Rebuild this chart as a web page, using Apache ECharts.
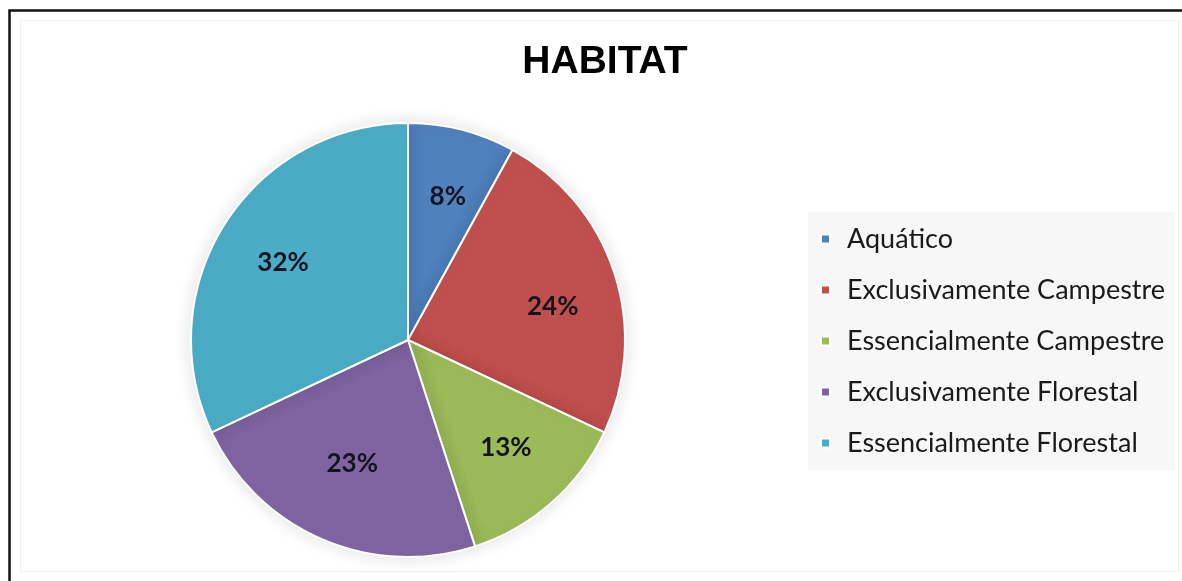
<!DOCTYPE html>
<html>
<head>
<meta charset="utf-8">
<script src="https://cdn.jsdelivr.net/npm/echarts@6/dist/echarts.min.js"></script>
<style>
  html, body { margin: 0; padding: 0; background: #ffffff; }
  #chart { width: 1182px; height: 581px; }
</style>
</head>
<body>
<div id="chart"></div>
<script>
// Habitat categories and their share of species (%)
const categories = [
  'Aquático',
  'Exclusivamente Campestre',
  'Essencialmente Campestre',
  'Exclusivamente Florestal',
  'Essencialmente Florestal'
];
const shares = [8, 24, 13, 23, 32];
const colors = ['#4f81bd', '#c0504d', '#9bbb59', '#8064a2', '#4bacc6'];
// small nudges for the percentage labels inside the slices
const labelNudges = [[3, 0], [4, 12], [0, -3], [3, -12], [0, 2]];

const pieData = categories.map((name, i) => ({
  name: name,
  value: shares[i],
  itemStyle: { color: colors[i] }
}));

const chart = echarts.init(document.getElementById('chart'), null, { renderer: 'canvas' });

chart.setOption({
  animation: false,
  backgroundColor: '#ffffff',
  title: {
    text: 'HABITAT',
    left: 600,
    top: 38,
    textAlign: 'center',
    textStyle: {
      fontFamily: '"Liberation Sans", Arial, sans-serif',
      fontWeight: 'bold',
      fontSize: 39,
      color: '#000000'
    }
  },
  legend: {
    orient: 'vertical',
    left: 808,
    top: 212,
    padding: [12, 10, 12, 12],
    backgroundColor: '#f7f7f7',
    icon: 'rect',
    itemWidth: 9,
    itemHeight: 9,
    itemGap: 21,
    selectedMode: false,
    data: categories.map((name, i) => ({ name: name, itemStyle: { color: colors[i] } })),
    textStyle: {
      fontFamily: 'Lato, "Open Sans", sans-serif',
      fontSize: 27,
      lineHeight: 30,
      color: '#1a1a1a',
      padding: [0, 0, 0, 12]
    }
  },
  graphic: [
    {
      type: 'rect',
      silent: true,
      z: -10,
      shape: { x: 9.5, y: 10.5, width: 1200, height: 600 },
      style: { fill: 'none', stroke: '#111111', lineWidth: 2.5 }
    },
    {
      type: 'rect',
      silent: true,
      z: -10,
      shape: { x: 20.5, y: 20.5, width: 1158, height: 551 },
      style: { fill: 'none', stroke: '#f0f0f0', lineWidth: 1 }
    }
  ],
  series: [
    {
      // filled slices
      name: 'HABITAT',
      type: 'pie',
      center: [408, 340],
      radius: [0, 217],
      startAngle: 90,
      clockwise: true,
      silent: true,
      label: { show: false },
      labelLine: { show: false },
      itemStyle: {
        borderColor: '#ffffff',
        borderWidth: 2,
        shadowBlur: 18,
        shadowColor: 'rgba(0,0,0,0.12)'
      },
      data: pieData
    },
    {
      // transparent ring used only to place the percentage labels
      name: 'labels',
      type: 'pie',
      center: [408, 340],
      radius: [73, 217],
      startAngle: 90,
      clockwise: true,
      silent: true,
      itemStyle: { color: 'rgba(0,0,0,0)', borderWidth: 0 },
      label: {
        show: true,
        position: 'inside',
        formatter: '{c}%',
        fontFamily: 'Lato, "Open Sans", sans-serif',
        fontWeight: 'bold',
        fontSize: 26,
        color: '#141420'
      },
      labelLine: { show: false },
      data: categories.map((name, i) => ({
        name: name,
        value: shares[i],
        label: { offset: labelNudges[i] }
      }))
    }
  ]
});
</script>
</body>
</html>
